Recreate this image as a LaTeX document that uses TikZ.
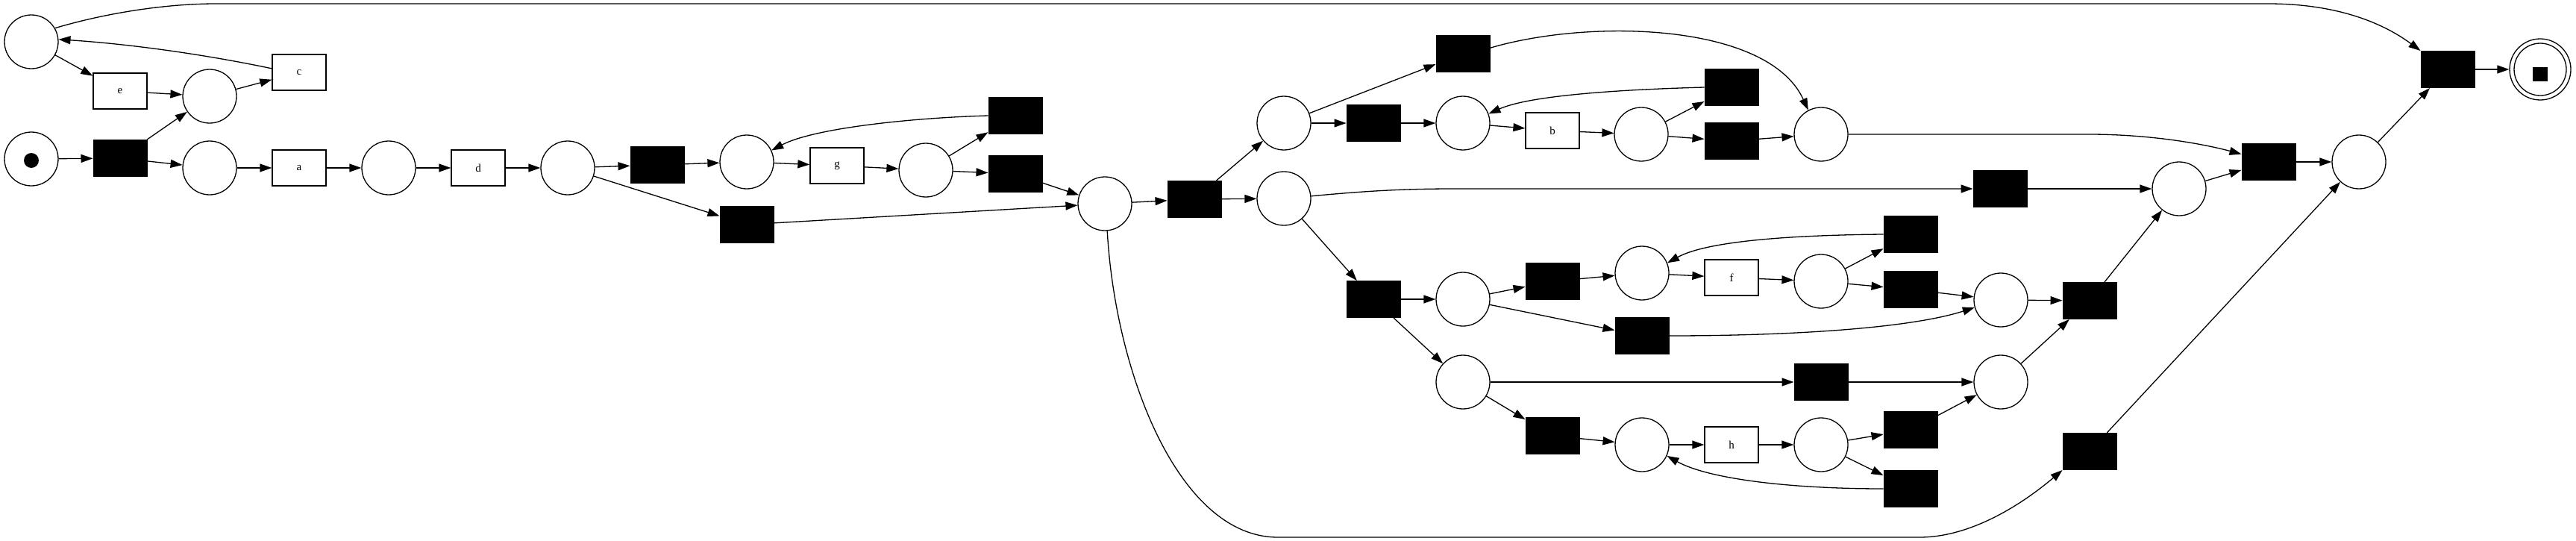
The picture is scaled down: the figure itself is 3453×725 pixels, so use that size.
\documentclass[tikz,border=0pt]{standalone}
\usepackage{fontspec}
\setmainfont{Liberation Serif}
\usetikzlibrary{arrows.meta}
\begin{document}
\begin{tikzpicture}[x=1pt,y=-1pt,
 place/.style={circle,draw,line width=1.3pt,minimum size=72pt,inner sep=0pt},
 tau/.style={rectangle,fill=black,draw=black,line width=1pt,minimum width=72pt,minimum height=49pt,inner sep=0pt},
 trans/.style={rectangle,draw,fill=white,line width=1.3pt,minimum width=72pt,minimum height=48pt,inner sep=0pt,font=\fontsize{15}{15}\selectfont},
 arc/.style={line width=1.3pt,-{Triangle[length=16pt,width=11pt]}},
]
\useasboundingbox (0,0) rectangle (3453,725);
% places and transitions
\node[place] (ptop) at (42,56) {};
\node[place] (start) at (42,213) {};
\node[circle,fill,minimum size=20pt,inner sep=0pt] (tok) at (42,215) {};
\node[tau] (t0) at (161,212) {};
\node[trans] (e) at (161,122) {e};
\node[place] (pec) at (281,129) {};
\node[trans] (c) at (401,97) {c};
\node[place] (pa) at (281,225) {};
\node[trans] (a) at (401,225) {a};
\node[place] (pd) at (521,225) {};
\node[trans] (d) at (641,225) {d};
\node[place] (p3) at (761,225) {};
\node[tau] (t1) at (881,221) {};
\node[place] (pg) at (1001,217) {};
\node[trans] (g) at (1122,222) {g};
\node[place] (pag) at (1241,228) {};
\node[tau] (tgl) at (1361,155) {};
\node[tau] (tgx) at (1361,233) {};
\node[tau] (tsk) at (1001,301) {};
\node[place] (pj) at (1481,273) {};
\node[tau] (tsp) at (1601,267) {};
\node[place] (pu) at (1721,165) {};
\node[place] (pl) at (1721,266) {};
\node[tau] (ttop) at (1961,72) {};
\node[tau] (tmid) at (1841,165) {};
\node[place] (pbi) at (1961,165) {};
\node[trans] (b) at (2081,175) {b};
\node[place] (pab) at (2200,180) {};
\node[tau] (tbl) at (2321,117) {};
\node[tau] (tbx) at (2321,189) {};
\node[place] (pjb) at (2441,180) {};
\node[tau] (tsu) at (2681,253) {};
\node[tau] (tls) at (1841,401) {};
\node[place] (pfi) at (1961,401) {};
\node[tau] (tfi) at (2081,377) {};
\node[place] (pbf) at (2201,366) {};
\node[trans] (f) at (2321,372) {f};
\node[place] (paf) at (2441,377) {};
\node[tau] (tfl) at (2561,314) {};
\node[tau] (tfx) at (2561,388) {};
\node[place] (pjf) at (2682,402) {};
\node[tau] (tsf) at (2201,450) {};
\node[place] (phi) at (1961,512) {};
\node[tau] (tsh) at (2441,512) {};
\node[tau] (thi) at (2081,584) {};
\node[place] (pbh) at (2201,596) {};
\node[trans] (h) at (2321,596) {h};
\node[place] (pah) at (2441,596) {};
\node[tau] (thx) at (2561,576) {};
\node[tau] (thl) at (2561,655) {};
\node[place] (pjh) at (2682,512) {};
\node[tau] (tjl) at (2801,403) {};
\node[place] (pjm) at (2921,253) {};
\node[tau] (tju) at (3041,217) {};
\node[place] (ppre) at (3162,217) {};
\node[tau] (tsa) at (2801,605) {};
\node[tau] (tfin) at (3281,93) {};
\node[circle,draw,line width=1.3pt,minimum size=82pt,inner sep=0pt] (pend) at (3405,93) {};
\node[circle,draw,line width=1.3pt,minimum size=70pt,inner sep=0pt] (pendin) at (3405,93) {};
\node[rectangle,fill=black,minimum width=20pt,minimum height=19pt,inner sep=0pt] (endtok) at (3405,99) {};
% arcs
\draw[arc] (start) -- (t0);
\draw[arc] (t0) -- (pec);
\draw[arc] (t0) -- (pa);
\draw[arc] (ptop) -- (e);
\draw[arc] (e) -- (pec);
\draw[arc] (pec) -- (c);
\draw[arc] (c.172) .. controls (260,70) and (160,58) .. (ptop.5);
\draw[arc] (ptop.30) .. controls (140,18) and (220,5) .. (290,5) -- (3040,5) .. controls (3140,5) and (3200,35) .. (tfin.north west);
\draw[arc] (pa) -- (a);
\draw[arc] (a) -- (pd);
\draw[arc] (pd) -- (d);
\draw[arc] (d) -- (p3);
\draw[arc] (p3) -- (t1);
\draw[arc] (t1) -- (pg);
\draw[arc] (p3) -- (tsk);
\draw[arc] (tsk) -- (pj);
\draw[arc] (pg) -- (g);
\draw[arc] (g) -- (pag);
\draw[arc] (pag) -- (tgl);
\draw[arc] (tgl.west) .. controls (1220,158) and (1090,172) .. (pg.25);
\draw[arc] (pag) -- (tgx);
\draw[arc] (tgx) -- (pj);
\draw[arc] (pj) -- (tsp);
\draw[arc] (tsp) -- (pu);
\draw[arc] (tsp) -- (pl);
\draw[arc] (pu) -- (ttop);
\draw[arc] (ttop.12) .. controls (2130,25) and (2370,30) .. (pjb.118);
\draw[arc] (pu) -- (tmid);
\draw[arc] (tmid) -- (pbi);
\draw[arc] (pbi) -- (b);
\draw[arc] (b) -- (pab);
\draw[arc] (pab) -- (tbl);
\draw[arc] (tbl.west) .. controls (2170,120) and (2050,128) .. (pbi.20);
\draw[arc] (pab) -- (tbx);
\draw[arc] (tbx) -- (pjb);
\draw[arc] (pjb.east) -- (2800,180) .. controls (2880,180) and (2950,192) .. (tju.164);
\draw[arc] (pl.5) .. controls (1830,256) and (1880,253) .. (1950,253) -- (tsu.west);
\draw[arc] (tsu) -- (pjm);
\draw[arc] (pl) -- (tls);
\draw[arc] (tls) -- (pfi);
\draw[arc] (tls) -- (phi);
\draw[arc] (pfi) -- (tfi);
\draw[arc] (tfi) -- (pbf);
\draw[arc] (pbf) -- (f);
\draw[arc] (f) -- (paf);
\draw[arc] (paf) -- (tfl);
\draw[arc] (tfl.west) .. controls (2410,315) and (2290,322) .. (pbf.22);
\draw[arc] (paf) -- (tfx);
\draw[arc] (tfx) -- (pjf);
\draw[arc] (pfi) -- (tsf);
\draw[arc] (tsf.east) .. controls (2400,450) and (2560,440) .. (pjf.196);
\draw[arc] (phi) -- (tsh);
\draw[arc] (tsh) -- (pjh);
\draw[arc] (phi) -- (thi);
\draw[arc] (thi) -- (pbh);
\draw[arc] (pbh) -- (h);
\draw[arc] (h) -- (pah);
\draw[arc] (pah) -- (thx);
\draw[arc] (thx) -- (pjh);
\draw[arc] (pah) -- (thl);
\draw[arc] (thl.west) .. controls (2400,655) and (2290,642) .. (pbh.336);
\draw[arc] (pjf) -- (tjl);
\draw[arc] (pjh) -- (tjl);
\draw[arc] (tjl) -- (pjm);
\draw[arc] (pjm) -- (tju);
\draw[arc] (tju) -- (ppre);
\draw[arc] (pj.-85) .. controls (1495,500) and (1580,720) .. (1713,720) -- (2573,720) .. controls (2645,720) and (2715,672) .. (tsa.south west);
\draw[arc] (tsa) -- (ppre);
\draw[arc] (ppre) -- (tfin);
\draw[arc] (tfin) -- (pend);
\end{tikzpicture}
\end{document}
